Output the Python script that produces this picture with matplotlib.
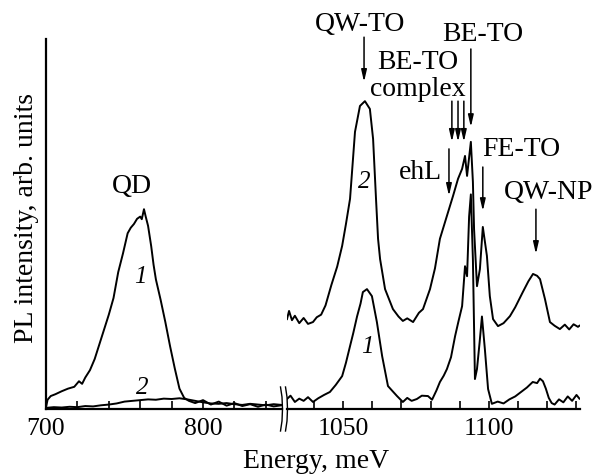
import matplotlib
matplotlib.use("Agg")
import matplotlib.pyplot as plt
from matplotlib.lines import Line2D
from matplotlib.ticker import MultipleLocator

plt.rcParams['font.family'] = ['Liberation Serif', 'DejaVu Serif']

# ---- left part (QD region), meV / arb. units ----
e_left1 = [700, 701, 703, 706, 710, 714, 718, 721, 723, 725, 728, 731, 734, 737, 740, 743,
           746, 749, 752, 754, 756, 758, 760, 761, 762.4, 763.5, 765, 767, 768.5, 770, 773,
           776, 779, 782, 785, 788, 791, 795, 800, 805, 810, 815, 820, 825, 830, 835, 840,
           845, 850]
i_left1 = [0.5, 2.5, 3.5, 4.0, 4.8, 5.5, 6.0, 7.5, 6.8, 8.5, 10.5, 13.5, 17.5, 21.5, 25.5, 30.0,
           37.0, 42.0, 47.5, 49.0, 50.0, 51.4, 52.0, 51.3, 54.0, 52.0, 49.5, 44.0, 39.0, 35.0, 29.5,
           23.5, 17.0, 11.0, 5.5, 3.0, 2.2, 1.6, 2.4, 1.2, 2.0, 0.9, 1.6, 0.8, 1.3, 0.6, 1.2,
           0.7, 1.0]

e_left2 = [700, 705, 710, 715, 720, 725, 730, 735, 740, 745, 750, 755, 760, 765, 770, 775,
           780, 785, 790, 795, 800, 805, 810, 815, 820, 825, 830, 835, 840, 845, 850]
i_left2 = [0.3, 0.5, 0.4, 0.6, 0.5, 0.8, 0.7, 1.0, 1.2, 1.5, 2.0, 2.2, 2.4, 2.6, 2.5, 2.8,
           2.7, 2.9, 2.6, 2.2, 1.8, 1.5, 1.4, 1.6, 1.3, 1.1, 1.4, 1.2, 1.0, 1.3, 1.1]

# ---- right part (QW / Si region) ----
e_right1 = [1030.8, 1032, 1033.5, 1035, 1036.5, 1038, 1039.7, 1041.5, 1043.5, 1045.5, 1047.5,
            1049.7, 1051, 1052.4, 1053.5, 1054.8, 1056, 1056.8, 1058.2, 1059.9, 1061.6, 1063.4,
            1065.4, 1067, 1068.5, 1070.5, 1072, 1073.5, 1075.3, 1077, 1079.1, 1080.5, 1082,
            1083.2, 1084.5, 1085.6, 1087, 1088.4, 1089.5, 1090.8, 1091.8, 1092.5, 1093.2, 1093.8,
            1094.5, 1095.2, 1095.9, 1096.8, 1097.6, 1098.6, 1099.7, 1101, 1103, 1105, 1107, 1109,
            1111, 1113, 1115, 1116.5, 1117.5, 1118.5, 1119.5, 1120.5, 1121.5, 1122.5, 1124,
            1125.5, 1127, 1128.5, 1130, 1131]
i_right1 = [2.7, 3.6, 1.9, 2.8, 2.2, 3.2, 1.9, 2.9, 3.8, 4.6, 6.5,
            8.9, 12.5, 17.0, 20.5, 25.0, 28.5, 31.6, 32.4, 30.5, 23.5, 14.3,
            6.2, 4.8, 3.5, 1.9, 3.0, 2.2, 2.7, 3.6, 3.5, 2.5, 5.0,
            7.3, 9.0, 10.8, 14.0, 19.7, 23.5, 27.8, 38.6, 35.9, 52.0, 58.0,
            40.5, 8.1, 10.8, 18.0, 25.0, 16.2, 5.4, 1.4, 2.0, 1.5, 2.6, 3.4,
            4.6, 5.8, 7.3, 7.0, 8.2, 7.5, 5.5, 3.0, 1.6, 1.2, 2.6,
            1.8, 3.4, 2.2, 3.8, 2.8]

e_right2 = [1030.8, 1031.5, 1032.5, 1033.5, 1035, 1036.5, 1038, 1039.7, 1041, 1042.5, 1044,
            1046, 1048, 1049.7, 1051, 1052.4, 1054.1, 1055.8, 1057.5, 1059.2, 1060.3, 1061.3,
            1062, 1062.7, 1064.4, 1067.1, 1069, 1070.5, 1072, 1074, 1076, 1077.4, 1079.8,
            1081.5, 1083.2, 1085.6, 1087.7, 1089.4, 1090.8, 1091.8, 1092.5, 1093.8, 1094.5,
            1094.9, 1095.9, 1096.9, 1097.9, 1099.3, 1100.3, 1101.4, 1103.1, 1105, 1107.2, 1109,
            1111.6, 1113.5, 1115.1, 1116.5, 1117.5, 1119.2, 1120.9, 1122.5, 1124.3, 1126,
            1127.5, 1129, 1130.5, 1131]
i_right2 = [24.3, 26.5, 24.0, 25.2, 23.2, 24.6, 23.0, 23.5, 24.8, 25.5, 28.0,
            33.5, 38.5, 44.1, 50.0, 56.8, 74.9, 81.9, 83.2, 81.1, 73.0, 56.8,
            46.0, 40.5, 32.4, 27.0, 25.0, 23.8, 24.5, 23.5, 26.0, 27.0, 32.4,
            38.0, 46.0, 52.2, 57.6, 62.2, 64.9, 68.4, 63.0, 72.2, 61.4,
            48.6, 33.2, 37.8, 49.2, 41.4, 30.5, 24.3, 22.4, 23.2, 25.1, 27.5,
            31.6, 34.5, 36.5, 36.0, 35.1, 29.7, 23.5, 22.5, 21.6, 22.8,
            21.5, 22.9, 22.2, 22.5]

fig = plt.figure(figsize=(5.98, 4.77), dpi=100)
ax1 = fig.add_axes([46/598, 67/477, 236/598, 370/477])
ax2 = fig.add_axes([287/598, 67/477, 293/598, 370/477])

lw = 1.4
ax1.plot(e_left1, i_left1, color='k', lw=lw)
ax1.plot(e_left2, i_left2, color='k', lw=lw)
ax2.plot(e_right1, i_right1, color='k', lw=lw)
ax2.plot(e_right2, i_right2, color='k', lw=lw)

ax1.set_xlim(700, 850.3)
ax2.set_xlim(1030.8, 1131.2)
for ax in (ax1, ax2):
    ax.set_ylim(0, 100)
    ax.spines['top'].set_visible(False)
    ax.spines['right'].set_visible(False)
    ax.spines['bottom'].set_linewidth(1.6)
    ax.set_yticks([])
    ax.tick_params(axis='x', direction='in', length=6, width=1.2, labelsize=18.5, pad=6)
    ax.tick_params(axis='x', which='minor', direction='in', length=6, width=1.2)
    ax.patch.set_alpha(0)
ax1.spines['left'].set_linewidth(1.6)
ax2.spines['left'].set_visible(False)

ax1.set_xticks([700, 800])
ax1.xaxis.set_minor_locator(MultipleLocator(20))
ax2.set_xticks([1050, 1100])
ax2.xaxis.set_minor_locator(MultipleLocator(10))

fig.text(27/598, 1 - 218/477, 'PL intensity, arb. units', fontsize=20, rotation=90,
         ha='center', va='center')
fig.text(316/598, 1 - 468/477, 'Energy, meV', fontsize=20, ha='center', va='baseline')

# axis break marks
for xb in (282, 287):
    xs = [xb - 1.5, xb, xb + 0.5, xb, xb - 1.5]
    ys = [388, 398, 410, 422, 432]
    fig.add_artist(Line2D([x/598 for x in xs], [1 - y/477 for y in ys],
                          color='k', lw=1.0, transform=fig.transFigure))

# labels on the left part
ax1.text(754.8, 60.5, 'QD', fontsize=20, ha='center', va='center')
ax1.text(760, 36, '1', fontsize=18, style='italic', ha='center', va='center')
ax1.text(761, 6, '2', fontsize=18, style='italic', ha='center', va='center')

# labels on the right part
ax2.text(1057.2, 61.6, '2', fontsize=18, style='italic', ha='center', va='center')
ax2.text(1058.2, 17, '1', fontsize=18, style='italic', ha='center', va='center')

aprops = dict(arrowstyle='-|>,head_length=0.7,head_width=0.16', color='k', lw=1.1,
              shrinkA=0, shrinkB=0)


def arrow(ax, x, y0, y1):
    ax.annotate('', xy=(x, y1), xytext=(x, y0), arrowprops=aprops, annotation_clip=False)


ax2.text(1055.8, 104.3, 'QW-TO', fontsize=20, ha='center', va='center')
arrow(ax2, 1057.2, 100.5, 88.4)

ax2.text(1097.9, 101.4, 'BE-TO', fontsize=20, ha='center', va='center')
arrow(ax2, 1093.8, 97.3, 76.2)

ax2.text(1075.7, 94, 'BE-TO', fontsize=20, ha='center', va='center')
ax2.text(1075.7, 86.5, 'complex', fontsize=20, ha='center', va='center')
for xa in (1087.3, 1089.4, 1091.4):
    arrow(ax2, xa, 83.2, 72.2)

ax2.text(1076.4, 64.3, 'ehL', fontsize=20, ha='center', va='center')
arrow(ax2, 1086.3, 70.3, 57.6)

ax2.text(1111, 70.5, 'FE-TO', fontsize=20, ha='center', va='center')
arrow(ax2, 1097.9, 65.4, 53.5)

ax2.text(1120.5, 58.9, 'QW-NP', fontsize=20, ha='center', va='center')
arrow(ax2, 1116.1, 54, 41.9)

fig.savefig('out.png', dpi=100)
